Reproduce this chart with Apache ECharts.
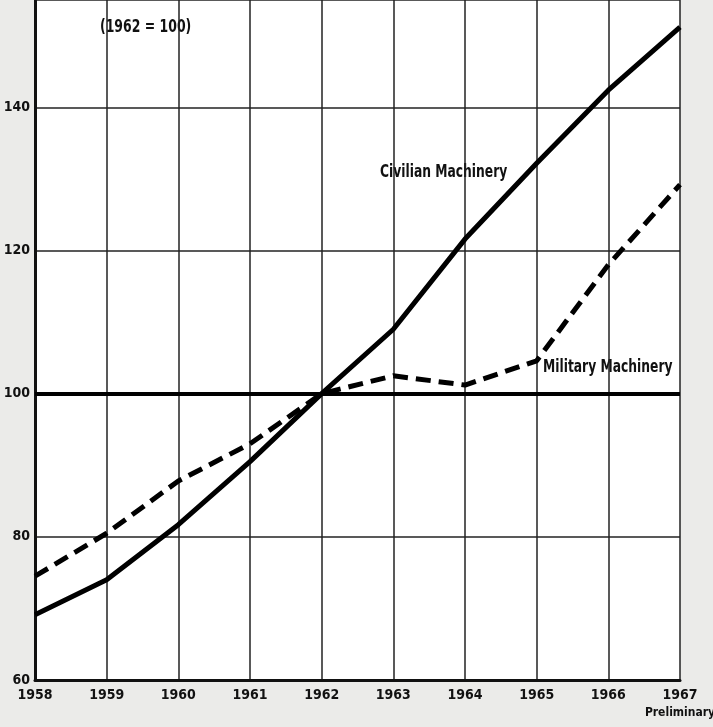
<!DOCTYPE html>
<html><head><meta charset="utf-8">
<script src="https://cdn.jsdelivr.net/npm/echarts@6/dist/echarts.min.js"></script>
<style>html,body{margin:0;padding:0;background:#ebebe9;}#c{width:713px;height:727px;}</style>
</head><body><div id="c"></div>
<script>
const years = ['1958','1959','1960','1961','1962','1963','1964','1965','1966','1967'];
const civilian = [69.1, 74.0, 81.7, 90.5, 100, 109.0, 121.6, 132.2, 142.4, 151.2];
const military = [74.5, 80.5, 87.8, 93.0, 100, 102.5, 101.2, 104.6, 118.0, 129.2];
const yTicks = [60, 80, 100, 120, 140];
const FONT = '"DejaVu Sans Condensed", "Liberation Sans Narrow", "Roboto Condensed", sans-serif';

const chart = echarts.init(document.getElementById('c'));
chart.setOption({
  backgroundColor: '#ebebe9',
  animation: false,
  grid: { left: 35, right: 33, top: 0, bottom: 47, show: true, backgroundColor: '#ffffff', borderWidth: 0,
    containLabel: false, outerBoundsMode: 'none' },
  xAxis: {
    type: 'category', data: years, boundaryGap: false,
    axisLine: { lineStyle: { color: '#111', width: 3 } },
    axisTick: { show: false },
    axisLabel: {
      interval: 0, color: '#111', fontFamily: FONT, fontWeight: 'bold', fontSize: 14, margin: 8,
      formatter: v => v === '1967' ? '1967\n{p|Preliminary}' : v,
      rich: { p: { fontFamily: FONT, fontWeight: 'bold', fontSize: 12, color: '#111', padding: [5, 0, 0, 0] } }
    },
    splitLine: { show: true, interval: 0, lineStyle: { color: '#222', width: 1.5 } }
  },
  yAxis: {
    type: 'value', min: 60, max: 155, interval: 20,
    axisLine: { show: true, lineStyle: { color: '#111', width: 3 } },
    axisTick: { show: false },
    axisLabel: { color: '#111', fontFamily: FONT, fontWeight: 'bold', fontSize: 14, margin: 5,
      formatter: v => yTicks.includes(v) ? String(v) : '' },
    splitLine: { show: true, lineStyle: { color: '#222', width: 1.5 } }
  },
  series: [
    {
      name: 'Civilian Machinery', type: 'line', data: civilian, symbol: 'none',
      lineStyle: { color: '#000', width: 5 }, z: 4,
      markLine: { silent: true, symbol: 'none', label: { show: false },
        lineStyle: { color: '#000', width: 4, type: 'solid' }, data: [{ yAxis: 100 }] }
    },
    {
      name: 'Military Machinery', type: 'line', data: military, symbol: 'none',
      lineStyle: { color: '#000', width: 5, type: [15, 8] }, z: 4
    }
  ],
  graphic: [
    { type: 'text', x: 100, y: 18, scaleX: 0.77, style: { text: '(1962 = 100)', font: 'bold 18px ' + FONT, fill: '#111' } },
    { type: 'text', x: 380, y: 163, scaleX: 0.76, style: { text: 'Civilian Machinery', font: 'bold 18px ' + FONT, fill: '#111' } },
    { type: 'text', x: 543, y: 358, scaleX: 0.76, style: { text: 'Military Machinery', font: 'bold 18px ' + FONT, fill: '#111' } }
  ]
});
</script></body></html>
